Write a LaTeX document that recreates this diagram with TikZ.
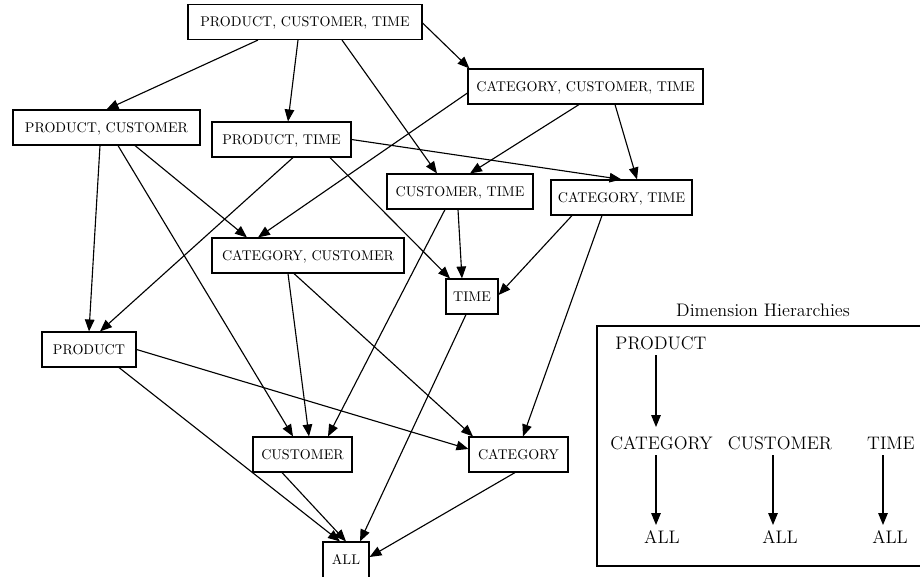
\documentclass[tikz,border=0pt]{standalone}
\usetikzlibrary{arrows.meta,calc}
\newlength\pxu
\setlength\pxu{0.025cm}
\begin{document}
\begin{tikzpicture}[x=0.025cm,y=-0.025cm,
  cube/.style={draw,line width=0.8pt,inner sep=0pt,minimum height=35\pxu,
    text height=6.83pt,text depth=0pt,font=\fontsize{10}{12}\selectfont},
  edge/.style={line width=0.8pt,-{Triangle[length=8.5pt,width=6.8pt]}},
  hlabel/.style={inner sep=0pt,text height=8.8pt,text depth=0pt,
    font=\fontsize{12.9}{15.5}\selectfont}]
\clip (0,0) rectangle (920,577);

% lattice of group-bys
\node[cube,minimum width=234\pxu] (pct)  at (305,22)    {PRODUCT, CUSTOMER, TIME};
\node[cube,minimum width=235\pxu] (cct)  at (585.5,86.5) {CATEGORY, CUSTOMER, TIME};
\node[cube,minimum width=187\pxu] (pc)   at (106.5,127.5) {PRODUCT, CUSTOMER};
\node[cube,minimum width=139\pxu] (pt)   at (281.5,139.5) {PRODUCT, TIME};
\node[cube,minimum width=146\pxu] (ct)   at (460,191.5)  {CUSTOMER, TIME};
\node[cube,minimum width=141\pxu] (catt) at (621.5,197.5) {CATEGORY, TIME};
\node[cube,minimum width=192\pxu] (catc) at (308,255.5)  {CATEGORY, CUSTOMER};
\node[cube,minimum width=52\pxu]  (time) at (472,296.5)  {TIME};
\node[cube,minimum width=94\pxu]  (prod) at (89,349.5)   {PRODUCT};
\node[cube,minimum width=99\pxu]  (cust) at (302.5,454.5) {CUSTOMER};
\node[cube,minimum width=99\pxu]  (cat)  at (518.5,454.5) {CATEGORY};
\node[cube,minimum width=46\pxu,minimum height=36\pxu] (all) at (346,560) {ALL};

% roll-up edges
\draw[edge] ($(pct.south)+(-47,0)$) -- (pc.north);
\draw[edge] ($(pct.south)+(-7,0)$) -- ($(pt.north)+(6.5,0)$);
\draw[edge] ($(pct.south)+(37,0)$) -- ($(ct.north)+(-23,0)$);
\draw[edge] ($(pct.east)+(0,1)$) -- ($(cct.north west)+(2,0)$);
\draw[edge] ($(cct.west)+(0,6.5)$) -- ($(catc.north)+(-50,0)$);
\draw[edge] ($(cct.south)+(-6.5,0)$) -- ($(ct.north)+(10,0)$);
\draw[edge] ($(cct.south)+(29.5,0)$) -- ($(catt.north)+(15.5,0)$);
\draw[edge] ($(pc.south)+(-6.5,0)$) -- (prod.north);
\draw[edge] ($(pc.south)+(11.5,0)$) -- ($(cust.north)+(-9.5,0)$);
\draw[edge] ($(pc.south)+(28.5,0)$) -- ($(catc.north)+(-61,0)$);
\draw[edge] ($(pt.south)+(11.5,0)$) -- ($(prod.north)+(11,0)$);
\draw[edge] ($(pt.south)+(48.5,0)$) -- ($(time.north)+(-22,0)$);
\draw[edge] (pt.east) -- (catt.north);
\draw[edge] ($(ct.south)+(-15,0)$) -- ($(cust.north)+(25.5,0)$);
\draw[edge] ($(ct.south)+(-2,0)$) -- ($(time.north)+(-10,0)$);
\draw[edge] ($(catt.south)+(-49.5,0)$) -- ($(time.east)+(0,-1.5)$);
\draw[edge] ($(catt.south)+(-19.5,0)$) -- ($(cat.north)+(4.5,0)$);
\draw[edge] ($(catc.south)+(-20,0)$) -- ($(cust.north)+(6.5,0)$);
\draw[edge] ($(catc.south)+(-14,0)$) -- ($(cat.north)+(-45.5,0)$);
\draw[edge] (prod.east) -- ($(cat.west)+(0,-5.5)$);
\draw[edge] ($(prod.south)+(30,0)$) -- ($(all.north)+(-6,0)$);
\draw[edge] ($(cust.south)+(-20.5,0)$) -- (all.north);
\draw[edge] ($(time.south)+(-6,0)$) -- ($(all.north)+(14,0)$);
\draw[edge] ($(cat.south)+(-3.5,0)$) -- ($(all.east)+(0,-3)$);

% dimension hierarchies panel
\node[hlabel] (htitle) at (763,310) {Dimension Hierarchies};
\draw[line width=0.8pt] (597,326) rectangle (935,566);
\node[hlabel] (hP)    at (661,343)   {PRODUCT};
\node[hlabel] (hCat)  at (661.5,443) {CATEGORY};
\node[hlabel] (hCust) at (780,443)   {CUSTOMER};
\node[hlabel] (hTime) at (891,443)   {TIME};
\node[hlabel] (hA1)   at (662,537)   {ALL};
\node[hlabel] (hA2)   at (780,537)   {ALL};
\node[hlabel] (hA3)   at (890,537)   {ALL};
\draw[edge] ($(hP)+(-5,12)$) -- ($(hCat)+(-5.5,-16)$);
\draw[edge] ($(hCat)+(-5.5,12)$) -- ($(hA1)+(-6,-12)$);
\draw[edge] ($(hCust)+(-7,12)$) -- ($(hA2)+(-7,-12)$);
\draw[edge] ($(hTime)+(-8,12)$) -- ($(hA3)+(-7,-12)$);
\end{tikzpicture}
\end{document}
